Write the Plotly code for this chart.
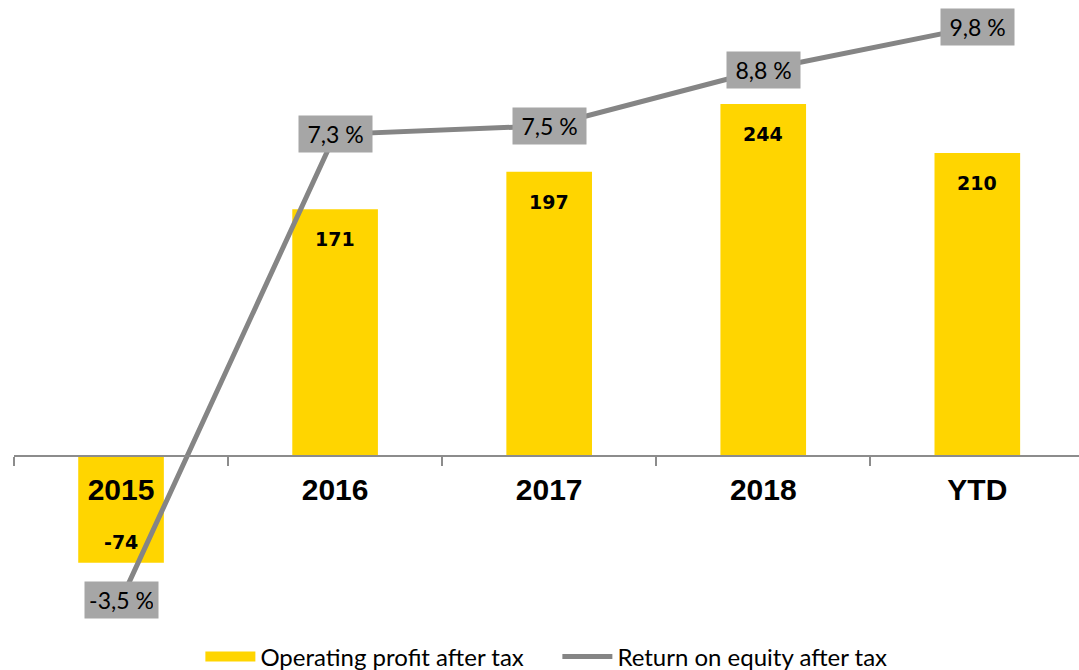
import plotly.graph_objects as go

categories = ["2015", "2016", "2017", "2018", "YTD"]
profit = [-74, 171, 197, 244, 210]
roe = [-3.5, 7.3, 7.5, 8.8, 9.8]
roe_labels = ["-3,5 %", "7,3 %", "7,5 %", "8,8 %", "9,8 %"]

H = 670
top_px, bot_px = 10, 620
plot_h = bot_px - top_px
zero1_px, scale1 = 456, 1.443
zero2_px, scale2 = 449, 43.1
y1 = [-(bot_px - zero1_px) / scale1, (zero1_px - top_px) / scale1]
y2 = [-(bot_px - zero2_px) / scale2, (zero2_px - top_px) / scale2]
xpos = (0 - y1[0]) / (y1[1] - y1[0])

BAR = "#FFD500"
LINE = "#858585"

fig = go.Figure()
fig.add_trace(go.Bar(x=categories, y=profit, name="Operating profit after tax",
                     marker=dict(color=BAR, line=dict(width=0)), width=0.4,
                     showlegend=False))
fig.add_trace(go.Scatter(x=categories, y=roe, name="Return on equity after tax",
                         mode="lines", line=dict(color=LINE, width=5), yaxis="y2",
                         showlegend=False))
# legend entries
fig.add_trace(go.Scatter(x=[None], y=[None], mode="lines", name="Operating profit after tax",
                         line=dict(color=BAR, width=16)))
fig.add_trace(go.Scatter(x=[None], y=[None], mode="lines", name="Return on equity after tax",
                         line=dict(color=LINE, width=5)))

ann = []
for i, v in enumerate(profit):
    ann.append(dict(x=i, y=v, xref="x", yref="y", text=f"<b>{v}</b>", showarrow=False,
                    yshift=-30 if v > 0 else 21,
                    font=dict(family="DejaVu Sans", size=19, color="black")))
for i, (v, t) in enumerate(zip(roe, roe_labels)):
    ann.append(dict(x=i, y=v, xref="x", yref="y2", text=t, showarrow=False,
                    bgcolor="#A6A6A6", borderpad=5, width=63, height=26,
                    font=dict(family="Lato", size=23, color="black")))

fig.update_layout(
    width=1079, height=H,
    margin=dict(l=14, r=0, t=top_px, b=H - bot_px, autoexpand=False),
    paper_bgcolor="white", plot_bgcolor="white",
    bargap=0.6,
    xaxis=dict(type="category", range=[-0.5, 4.475], anchor="free", position=xpos,
               automargin=False,
               showline=True, linecolor="#8C8C8C", linewidth=2,
               ticks="outside", tickson="boundaries", ticklen=9, tickwidth=1.5,
               tickcolor="#8C8C8C", showgrid=False, zeroline=False,
               tickfont=dict(family="Liberation Sans", size=30, color="black", weight="bold"),
               ticklabelstandoff=7),
    yaxis=dict(range=y1, visible=False, showgrid=False, zeroline=False, automargin=False),
    yaxis2=dict(range=y2, overlaying="y", side="right", visible=False,
                showgrid=False, zeroline=False, automargin=False),
    legend=dict(orientation="h", x=0.175, xanchor="left", yref="paper",
                y=(bot_px - 657) / plot_h, yanchor="middle",
                font=dict(family="Lato", size=24, color="black"),
                entrywidth=292, entrywidthmode="pixels",
                itemwidth=50, tracegroupgap=0),
    annotations=ann,
    showlegend=True,
)

fig.write_html("out.html", config={"displayModeBar": False},
               post_script="document.body.style.margin='0px';")
